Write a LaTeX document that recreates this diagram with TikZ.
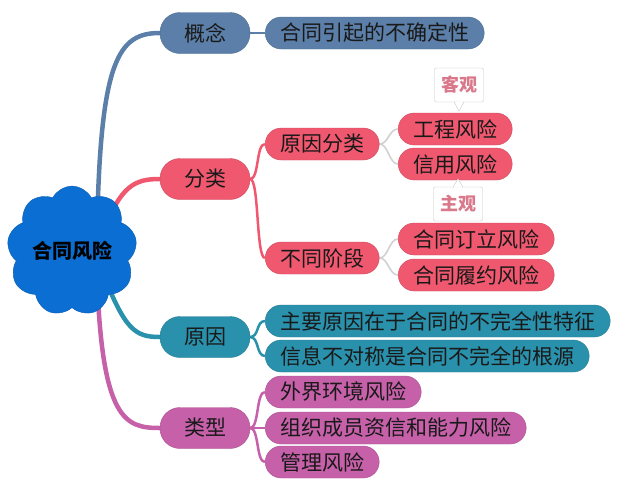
\documentclass[tikz,border=0pt]{standalone}
\usepackage{fontspec}
\newfontfamily\cjk{Noto Sans CJK SC}
\usepackage{tikz}
\usetikzlibrary{shapes.symbols, calc, backgrounds, positioning}

\definecolor{rootblue}{HTML}{0B6ED2}
\definecolor{ideablue}{HTML}{5B7FA8}
\definecolor{sortpink}{HTML}{F0586F}
\definecolor{causeteal}{HTML}{2A91AC}
\definecolor{kindmag}{HTML}{C660A9}
\definecolor{tagpink}{HTML}{D9788A}

\tikzset{
  rootcloud/.style={cloud, cloud puffs=9, cloud puff arc=125, aspect=1.0, fill=rootblue, draw=rootblue!85!black,
    minimum width=110pt, minimum height=106pt, inner sep=0pt, text=black,
    font=\cjk\bfseries\fontsize{20}{22}\selectfont},
  topic/.style={rectangle, rounded corners=20pt, minimum width=90pt, minimum height=41pt, inner xsep=12pt,
    text=black!90, font=\cjk\fontsize{21}{24}\selectfont},
  leaf/.style={rectangle, rounded corners=16pt, minimum height=32pt, inner xsep=15pt, inner ysep=0pt, anchor=west,
    text=black!90, font=\cjk\fontsize{21}{24}\selectfont},
  tagbox/.style={rectangle, draw=black!22, fill=white, rounded corners=2pt, minimum width=49pt, minimum height=34pt,
    inner sep=0pt, text=tagpink, font=\cjk\bfseries\fontsize{18}{20}\selectfont},
  branch/.style={line width=4.5pt, line cap=round},
  twig/.style={line width=2.5pt},
  thin/.style={draw=black!18, line width=1.6pt}
}

\begin{document}
\begin{tikzpicture}[x=1pt, y=-1pt]
  \useasboundingbox (0,0) rectangle (640,483);

  % root and main topics
  \node[rootcloud] (root) at (72,251) {合同风险};
  \node[topic, fill=ideablue, draw=ideablue!85!black] (gn) at (205,33) {概念};
  \node[topic, fill=sortpink, draw=sortpink!85!black] (fl) at (205,179) {分类};
  \node[topic, fill=causeteal, draw=causeteal!85!black] (yy) at (205,337) {原因};
  \node[topic, fill=kindmag, draw=kindmag!85!black] (lx) at (205,428) {类型};

  % subtopics
  \node[leaf, fill=ideablue, draw=ideablue!85!black] (gn1) at (265,33) {合同引起的不确定性};
  \node[leaf, fill=sortpink, draw=sortpink!85!black] (fl1) at (265,144) {原因分类};
  \node[leaf, fill=sortpink, draw=sortpink!85!black] (fl2) at (265,258) {不同阶段};
  \node[leaf, fill=sortpink, draw=sortpink!85!black] (fl11) at (398,129) {工程风险};
  \node[leaf, fill=sortpink, draw=sortpink!85!black] (fl12) at (398,164) {信用风险};
  \node[leaf, fill=sortpink, draw=sortpink!85!black] (fl21) at (398,239) {合同订立风险};
  \node[leaf, fill=sortpink, draw=sortpink!85!black] (fl22) at (398,275) {合同履约风险};
  \node[leaf, fill=causeteal, draw=causeteal!85!black] (yy1) at (265,321) {主要原因在于合同的不完全性特征};
  \node[leaf, fill=causeteal, draw=causeteal!85!black] (yy2) at (265,356) {信息不对称是合同不完全的根源};
  \node[leaf, fill=kindmag, draw=kindmag!85!black] (lx1) at (265,392) {外界环境风险};
  \node[leaf, fill=kindmag, draw=kindmag!85!black] (lx2) at (265,428) {组织成员资信和能力风险};
  \node[leaf, fill=kindmag, draw=kindmag!85!black] (lx3) at (265,462) {管理风险};

  % callouts
  \node[tagbox] (kg) at (459,85) {客观};
  \node[tagbox] (zg) at (458,204) {主观};
  \filldraw[draw=black!22, fill=white, line width=0.4pt]
    ($(kg.south)+(-5,-0.5)$) -- ($(kg.south)+(0,9)$) -- ($(kg.south)+(5,-0.5)$);
  \filldraw[draw=black!22, fill=white, line width=0.4pt]
    ($(zg.north)+(-5,0.5)$) -- ($(zg.north)+(0,-8)$) -- ($(zg.north)+(5,0.5)$);

  \begin{scope}[on background layer]
    % root to topics
    \draw[branch, ideablue] ($(root.center)+(25,-15)$) .. controls (100,60) and (118,33) .. (gn.west);
    \draw[branch, sortpink] ($(root.center)+(30,-15)$) .. controls (120,185) and (135,179) .. (fl.west);
    \draw[branch, causeteal] ($(root.center)+(30,20)$) .. controls (125,330) and (135,337) .. (yy.west);
    \draw[branch, kindmag] ($(root.center)+(25,25)$) .. controls (102,420) and (125,428) .. (lx.west);

    % topics to subtopics
    \draw[twig, ideablue] (gn.east) -- (gn1.west);
    \foreach \s in {fl1, fl2}
      \draw[twig, sortpink] (fl.east) .. controls ++(9,0) and ($(\s.west)+(-9,0)$) .. (\s.west);
    \foreach \s in {yy1, yy2}
      \draw[twig, causeteal] (yy.east) .. controls ++(9,0) and ($(\s.west)+(-9,0)$) .. (\s.west);
    \foreach \s in {lx1, lx2, lx3}
      \draw[twig, kindmag] (lx.east) .. controls ++(9,0) and ($(\s.west)+(-9,0)$) .. (\s.west);

    % subtopics to leaves
    \foreach \s in {fl11, fl12}
      \draw[thin] (fl1.east) .. controls ++(9,0) and ($(\s.west)+(-9,0)$) .. (\s.west);
    \foreach \s in {fl21, fl22}
      \draw[thin] (fl2.east) .. controls ++(9,0) and ($(\s.west)+(-9,0)$) .. (\s.west);
  \end{scope}
\end{tikzpicture}
\end{document}
